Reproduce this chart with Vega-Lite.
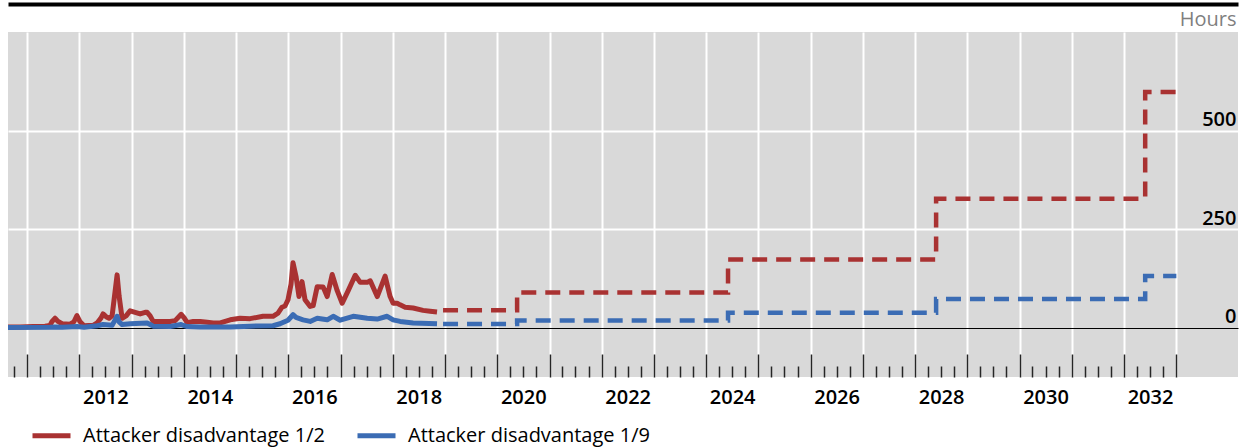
{
  "$schema": "https://vega.github.io/schema/vega-lite/v6.json",
  "width": 1230,
  "height": 345,
  "autosize": {"type": "none"},
  "padding": {"left": 8, "top": 32, "right": 11, "bottom": 70},
  "background": "white",
  "config": {
    "view": {"fill": "#d9d9d9", "stroke": null},
    "font": "Open Sans",
    "legend": {"padding": 0}
  },
  "datasets": {
    "hist": [
      {"date": "2010-08-20", "value": 2, "series": "Attacker disadvantage 1/2"},
      {"date": "2010-11-12", "value": 2, "series": "Attacker disadvantage 1/2"},
      {"date": "2011-02-12", "value": 3, "series": "Attacker disadvantage 1/2"},
      {"date": "2011-05-06", "value": 4, "series": "Attacker disadvantage 1/2"},
      {"date": "2011-06-10", "value": 6, "series": "Attacker disadvantage 1/2"},
      {"date": "2011-06-24", "value": 16, "series": "Attacker disadvantage 1/2"},
      {"date": "2011-07-15", "value": 24, "series": "Attacker disadvantage 1/2"},
      {"date": "2011-08-05", "value": 16, "series": "Attacker disadvantage 1/2"},
      {"date": "2011-09-02", "value": 10, "series": "Attacker disadvantage 1/2"},
      {"date": "2011-10-28", "value": 9, "series": "Attacker disadvantage 1/2"},
      {"date": "2011-11-24", "value": 15, "series": "Attacker disadvantage 1/2"},
      {"date": "2011-12-15", "value": 31, "series": "Attacker disadvantage 1/2"},
      {"date": "2012-01-06", "value": 15, "series": "Attacker disadvantage 1/2"},
      {"date": "2012-02-03", "value": 5, "series": "Attacker disadvantage 1/2"},
      {"date": "2012-04-06", "value": 6, "series": "Attacker disadvantage 1/2"},
      {"date": "2012-05-04", "value": 12, "series": "Attacker disadvantage 1/2"},
      {"date": "2012-06-01", "value": 25, "series": "Attacker disadvantage 1/2"},
      {"date": "2012-06-15", "value": 35, "series": "Attacker disadvantage 1/2"},
      {"date": "2012-07-06", "value": 28, "series": "Attacker disadvantage 1/2"},
      {"date": "2012-07-27", "value": 24, "series": "Attacker disadvantage 1/2"},
      {"date": "2012-08-17", "value": 30, "series": "Attacker disadvantage 1/2"},
      {"date": "2012-09-21", "value": 134, "series": "Attacker disadvantage 1/2"},
      {"date": "2012-10-05", "value": 80, "series": "Attacker disadvantage 1/2"},
      {"date": "2012-10-26", "value": 24, "series": "Attacker disadvantage 1/2"},
      {"date": "2012-11-23", "value": 30, "series": "Attacker disadvantage 1/2"},
      {"date": "2012-12-21", "value": 43, "series": "Attacker disadvantage 1/2"},
      {"date": "2013-01-25", "value": 39, "series": "Attacker disadvantage 1/2"},
      {"date": "2013-03-01", "value": 35, "series": "Attacker disadvantage 1/2"},
      {"date": "2013-04-05", "value": 39, "series": "Attacker disadvantage 1/2"},
      {"date": "2013-04-19", "value": 39, "series": "Attacker disadvantage 1/2"},
      {"date": "2013-05-10", "value": 30, "series": "Attacker disadvantage 1/2"},
      {"date": "2013-05-31", "value": 16, "series": "Attacker disadvantage 1/2"},
      {"date": "2013-07-19", "value": 16, "series": "Attacker disadvantage 1/2"},
      {"date": "2013-09-27", "value": 16, "series": "Attacker disadvantage 1/2"},
      {"date": "2013-11-01", "value": 18, "series": "Attacker disadvantage 1/2"},
      {"date": "2013-12-13", "value": 34, "series": "Attacker disadvantage 1/2"},
      {"date": "2014-01-03", "value": 25, "series": "Attacker disadvantage 1/2"},
      {"date": "2014-01-24", "value": 13, "series": "Attacker disadvantage 1/2"},
      {"date": "2014-03-07", "value": 16, "series": "Attacker disadvantage 1/2"},
      {"date": "2014-04-25", "value": 16, "series": "Attacker disadvantage 1/2"},
      {"date": "2014-06-13", "value": 14, "series": "Attacker disadvantage 1/2"},
      {"date": "2014-07-25", "value": 12, "series": "Attacker disadvantage 1/2"},
      {"date": "2014-09-12", "value": 12, "series": "Attacker disadvantage 1/2"},
      {"date": "2014-11-21", "value": 20, "series": "Attacker disadvantage 1/2"},
      {"date": "2015-01-29", "value": 24, "series": "Attacker disadvantage 1/2"},
      {"date": "2015-04-09", "value": 23, "series": "Attacker disadvantage 1/2"},
      {"date": "2015-07-08", "value": 29, "series": "Attacker disadvantage 1/2"},
      {"date": "2015-09-16", "value": 29, "series": "Attacker disadvantage 1/2"},
      {"date": "2015-10-21", "value": 37, "series": "Attacker disadvantage 1/2"},
      {"date": "2015-11-18", "value": 52, "series": "Attacker disadvantage 1/2"},
      {"date": "2015-12-09", "value": 55, "series": "Attacker disadvantage 1/2"},
      {"date": "2015-12-30", "value": 71, "series": "Attacker disadvantage 1/2"},
      {"date": "2016-01-20", "value": 110, "series": "Attacker disadvantage 1/2"},
      {"date": "2016-02-03", "value": 165, "series": "Attacker disadvantage 1/2"},
      {"date": "2016-02-24", "value": 130, "series": "Attacker disadvantage 1/2"},
      {"date": "2016-03-16", "value": 79, "series": "Attacker disadvantage 1/2"},
      {"date": "2016-04-06", "value": 117, "series": "Attacker disadvantage 1/2"},
      {"date": "2016-04-27", "value": 71, "series": "Attacker disadvantage 1/2"},
      {"date": "2016-06-02", "value": 54, "series": "Attacker disadvantage 1/2"},
      {"date": "2016-06-23", "value": 56, "series": "Attacker disadvantage 1/2"},
      {"date": "2016-07-21", "value": 104, "series": "Attacker disadvantage 1/2"},
      {"date": "2016-09-01", "value": 103, "series": "Attacker disadvantage 1/2"},
      {"date": "2016-09-29", "value": 79, "series": "Attacker disadvantage 1/2"},
      {"date": "2016-11-03", "value": 135, "series": "Attacker disadvantage 1/2"},
      {"date": "2016-12-08", "value": 94, "series": "Attacker disadvantage 1/2"},
      {"date": "2017-01-12", "value": 62, "series": "Attacker disadvantage 1/2"},
      {"date": "2017-02-23", "value": 94, "series": "Attacker disadvantage 1/2"},
      {"date": "2017-04-13", "value": 133, "series": "Attacker disadvantage 1/2"},
      {"date": "2017-05-18", "value": 115, "series": "Attacker disadvantage 1/2"},
      {"date": "2017-07-06", "value": 115, "series": "Attacker disadvantage 1/2"},
      {"date": "2017-07-27", "value": 119, "series": "Attacker disadvantage 1/2"},
      {"date": "2017-09-14", "value": 79, "series": "Attacker disadvantage 1/2"},
      {"date": "2017-11-08", "value": 131, "series": "Attacker disadvantage 1/2"},
      {"date": "2017-12-13", "value": 79, "series": "Attacker disadvantage 1/2"},
      {"date": "2018-01-03", "value": 62, "series": "Attacker disadvantage 1/2"},
      {"date": "2018-01-31", "value": 62, "series": "Attacker disadvantage 1/2"},
      {"date": "2018-02-21", "value": 58, "series": "Attacker disadvantage 1/2"},
      {"date": "2018-03-28", "value": 52, "series": "Attacker disadvantage 1/2"},
      {"date": "2018-05-23", "value": 50, "series": "Attacker disadvantage 1/2"},
      {"date": "2018-07-31", "value": 44, "series": "Attacker disadvantage 1/2"},
      {"date": "2018-09-19", "value": 42, "series": "Attacker disadvantage 1/2"},
      {"date": "2018-11-06", "value": 40, "series": "Attacker disadvantage 1/2"},

      {"date": "2010-08-20", "value": 0.5, "series": "Attacker disadvantage 1/9"},
      {"date": "2011-06-10", "value": 1, "series": "Attacker disadvantage 1/9"},
      {"date": "2011-07-15", "value": 2, "series": "Attacker disadvantage 1/9"},
      {"date": "2011-09-02", "value": 1, "series": "Attacker disadvantage 1/9"},
      {"date": "2011-12-15", "value": 3, "series": "Attacker disadvantage 1/9"},
      {"date": "2012-02-03", "value": 1, "series": "Attacker disadvantage 1/9"},
      {"date": "2012-05-04", "value": 5, "series": "Attacker disadvantage 1/9"},
      {"date": "2012-06-15", "value": 8, "series": "Attacker disadvantage 1/9"},
      {"date": "2012-08-17", "value": 6, "series": "Attacker disadvantage 1/9"},
      {"date": "2012-09-21", "value": 29, "series": "Attacker disadvantage 1/9"},
      {"date": "2012-10-05", "value": 15, "series": "Attacker disadvantage 1/9"},
      {"date": "2012-10-26", "value": 8, "series": "Attacker disadvantage 1/9"},
      {"date": "2012-12-21", "value": 10, "series": "Attacker disadvantage 1/9"},
      {"date": "2013-04-19", "value": 12, "series": "Attacker disadvantage 1/9"},
      {"date": "2013-05-10", "value": 8, "series": "Attacker disadvantage 1/9"},
      {"date": "2013-05-31", "value": 4, "series": "Attacker disadvantage 1/9"},
      {"date": "2013-09-27", "value": 3, "series": "Attacker disadvantage 1/9"},
      {"date": "2013-12-13", "value": 8, "series": "Attacker disadvantage 1/9"},
      {"date": "2014-01-24", "value": 3, "series": "Attacker disadvantage 1/9"},
      {"date": "2014-04-25", "value": 2, "series": "Attacker disadvantage 1/9"},
      {"date": "2014-11-21", "value": 2, "series": "Attacker disadvantage 1/9"},
      {"date": "2015-04-09", "value": 4, "series": "Attacker disadvantage 1/9"},
      {"date": "2015-09-16", "value": 5, "series": "Attacker disadvantage 1/9"},
      {"date": "2015-11-04", "value": 10, "series": "Attacker disadvantage 1/9"},
      {"date": "2015-12-30", "value": 19, "series": "Attacker disadvantage 1/9"},
      {"date": "2016-02-03", "value": 33, "series": "Attacker disadvantage 1/9"},
      {"date": "2016-02-24", "value": 26, "series": "Attacker disadvantage 1/9"},
      {"date": "2016-04-13", "value": 20, "series": "Attacker disadvantage 1/9"},
      {"date": "2016-06-02", "value": 16, "series": "Attacker disadvantage 1/9"},
      {"date": "2016-07-21", "value": 24, "series": "Attacker disadvantage 1/9"},
      {"date": "2016-09-29", "value": 20, "series": "Attacker disadvantage 1/9"},
      {"date": "2016-11-10", "value": 29, "series": "Attacker disadvantage 1/9"},
      {"date": "2016-12-29", "value": 19, "series": "Attacker disadvantage 1/9"},
      {"date": "2017-03-30", "value": 29, "series": "Attacker disadvantage 1/9"},
      {"date": "2017-07-06", "value": 24, "series": "Attacker disadvantage 1/9"},
      {"date": "2017-09-14", "value": 22, "series": "Attacker disadvantage 1/9"},
      {"date": "2017-11-22", "value": 29, "series": "Attacker disadvantage 1/9"},
      {"date": "2018-01-03", "value": 20, "series": "Attacker disadvantage 1/9"},
      {"date": "2018-02-21", "value": 16, "series": "Attacker disadvantage 1/9"},
      {"date": "2018-05-23", "value": 12, "series": "Attacker disadvantage 1/9"},
      {"date": "2018-11-06", "value": 10, "series": "Attacker disadvantage 1/9"}
    ],
    "proj": [
      {"date": "2018-12-18", "value": 44, "series": "Attacker disadvantage 1/2"},
      {"date": "2020-05-19", "value": 89, "series": "Attacker disadvantage 1/2"},
      {"date": "2024-06-02", "value": 173, "series": "Attacker disadvantage 1/2"},
      {"date": "2028-05-27", "value": 327, "series": "Attacker disadvantage 1/2"},
      {"date": "2032-05-28", "value": 598, "series": "Attacker disadvantage 1/2"},
      {"date": "2033-01-01", "value": 598, "series": "Attacker disadvantage 1/2"},
      {"date": "2018-12-18", "value": 9.5, "series": "Attacker disadvantage 1/9"},
      {"date": "2020-05-19", "value": 18, "series": "Attacker disadvantage 1/9"},
      {"date": "2024-06-02", "value": 38, "series": "Attacker disadvantage 1/9"},
      {"date": "2028-05-27", "value": 73, "series": "Attacker disadvantage 1/9"},
      {"date": "2032-05-28", "value": 131, "series": "Attacker disadvantage 1/9"},
      {"date": "2033-01-01", "value": 131, "series": "Attacker disadvantage 1/9"}
    ]
  },
  "encoding": {
    "y": {
      "field": "value",
      "type": "quantitative",
      "scale": {"domain": [-125, 750], "nice": false, "zero": false},
      "axis": {
        "orient": "right",
        "values": [0, 250, 500],
        "domain": false,
        "ticks": false,
        "grid": true,
        "gridColor": {"condition": {"test": "datum.value == 0", "value": "#000000"}, "value": "#ffffff"},
        "gridWidth": {"condition": {"test": "datum.value == 0", "value": 1}, "value": 2},
        "labelAlign": "right",
        "labelBaseline": "alphabetic",
        "labelPadding": -2,
        "labelOffset": -5,
        "labelFontSize": 20,
        "labelFontWeight": 600,
        "labelColor": "#000000",
        "title": "Hours",
        "titleAngle": 0,
        "titleAlign": "right",
        "titleBaseline": "middle",
        "titleX": -2,
        "titleY": -13,
        "titleFontSize": 20,
        "titleFontWeight": "normal",
        "titleColor": "#7f7f7f"
      }
    },
    "color": {
      "field": "series",
      "type": "nominal",
      "scale": {
        "domain": ["Attacker disadvantage 1/2", "Attacker disadvantage 1/9"],
        "range": ["#a93232", "#3b6cb4"]
      },
      "legend": {
        "orient": "none",
        "legendX": 22,
        "legendY": 382,
        "direction": "horizontal",
        "title": null,
        "symbolType": "stroke",
        "symbolSize": 1444,
        "symbolStrokeWidth": 5,
        "symbolDash": [],
        "labelFontSize": 20,
        "labelColor": "#000000",
        "labelLimit": 0,
        "labelOffset": 10,
        "columnPadding": 22
      }
    }
  },
  "resolve": {"axis": {"x": "independent"}},
  "layer": [
    {
      "data": {"name": "hist"},
      "mark": {"type": "line", "strokeWidth": 5, "strokeJoin": "round"},
      "encoding": {
        "x": {
          "field": "date",
          "type": "temporal",
          "scale": {
            "type": "utc",
            "domain": [
              {"year": 2010, "month": 8, "date": 20, "utc": true},
              {"year": 2034, "month": 3, "date": 8, "utc": true}
            ],
            "nice": false
          },
          "axis": {
            "orient": "bottom",
            "title": null,
            "domain": false,
            "tickCount": {"interval": "month", "step": 3},
            "tickSize": {"condition": {"test": "utcmonth(datum.value) == 0", "value": -23}, "value": -11},
            "tickOpacity": {"condition": {"test": "datum.value > utc(2033, 0, 2)", "value": 0}, "value": 1},
            "tickColor": "#262626",
            "tickWidth": 1.5,
            "grid": true,
            "gridColor": "#ffffff",
            "gridWidth": 2,
            "gridOpacity": {"condition": {"test": "utcmonth(datum.value) == 0 && datum.value < utc(2033, 0, 2)", "value": 1}, "value": 0},
            "labelExpr": "utcmonth(datum.value) == 6 && utcyear(datum.value) % 2 == 0 ? '' + utcyear(datum.value) : ''",
            "labelOverlap": false,
            "labelFlush": false,
            "labelAlign": "center",
            "labelBaseline": "top",
            "labelPadding": 21,
            "labelFontSize": 20,
            "labelFontWeight": 600,
            "labelColor": "#000000"
          }
        }
      }
    },
    {
      "data": {"name": "proj"},
      "mark": {"type": "line", "interpolate": "step-after", "strokeWidth": 4.5, "strokeDash": [15, 9]},
      "encoding": {
        "x": {
          "field": "date",
          "type": "temporal",
          "axis": {
            "orient": "top",
            "title": null,
            "labels": false,
            "ticks": false,
            "grid": false,
            "domain": true,
            "domainColor": "#000000",
            "domainWidth": 4,
            "offset": 28
          }
        }
      }
    }
  ]
}
